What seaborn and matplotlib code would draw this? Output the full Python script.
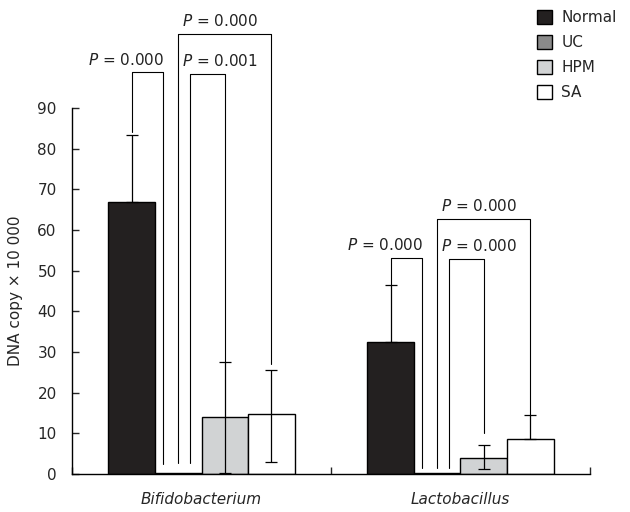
import numpy as np
import pandas as pd
import matplotlib
matplotlib.use('Agg')
import matplotlib.pyplot as plt
import seaborn as sns

# --- dados ---
generos = ['Bifidobacterium', 'Lactobacillus']
grupos = ['Normal', 'UC', 'HPM', 'SA']
cores = {'Normal': '#231f20', 'UC': '#8a8a8a', 'HPM': '#d1d3d4', 'SA': '#ffffff'}

valores = {
    'Normal': [66.8, 32.4],
    'UC': [0.3, 0.2],
    'HPM': [14.0, 4.0],
    'SA': [14.7, 8.7],
}
erro_inf = {'Normal': [0.0, 0.0], 'HPM': [13.7, 2.7], 'SA': [11.7, 0.0]}
erro_sup = {'Normal': [16.5, 14.1], 'HPM': [13.5, 3.1], 'SA': [10.9, 5.9]}

# colchetes de significância: (topo, base esquerda, base direita) por gênero
colchete_topo = {'Bifidobacterium': [98.7, 98.3, 108.2], 'Lactobacillus': [53.2, 52.9, 62.7]}
colchete_base_esq = {'Bifidobacterium': [84.0, 2.7, 2.7], 'Lactobacillus': [46.5, 1.5, 1.5]}
colchete_base_dir = {'Bifidobacterium': [2.5, 27.5, 27.0], 'Lactobacillus': [1.5, 10.1, 14.6]}
textos_p = {'Bifidobacterium': ['0.000', '0.001', '0.000'], 'Lactobacillus': ['0.000', '0.000', '0.000']}

linhas = []
for g in grupos:
    for i, gen in enumerate(generos):
        linhas.append({'genero': gen, 'grupo': g, 'valor': valores[g][i]})
df = pd.DataFrame(linhas)

sns.set_style('white')
plt.rcParams['font.family'] = ['DejaVu Sans']
plt.rcParams['font.size'] = 11
plt.rcParams['mathtext.fontset'] = 'dejavusans'

fig = plt.figure(figsize=(6.3, 5.12), dpi=100)
ax = fig.add_axes([72 / 630, 38 / 512, 518 / 630, 474 / 512])

sns.barplot(data=df, x='genero', y='valor', hue='grupo', hue_order=grupos,
            order=generos, palette=cores, edgecolor='black', linewidth=1.0,
            width=0.72, errorbar=None, ax=ax, zorder=2)

# centros das barras por grupo
centros = {}
for g, cont in zip(grupos, ax.containers):
    centros[g] = [b.get_x() + b.get_width() / 2 for b in cont]

for g in ['Normal', 'HPM', 'SA']:
    ax.errorbar(centros[g], valores[g], yerr=[erro_inf[g], erro_sup[g]], fmt='none',
                ecolor='black', elinewidth=0.9, capsize=4, capthick=0.9, zorder=3)

# colchetes
for i, gen in enumerate(generos):
    uc = centros['UC'][i]
    pares = [(centros['Normal'][i], uc - 0.06),
             (uc + 0.045, centros['HPM'][i]),
             (uc, centros['SA'][i])]
    for k, (xe, xd) in enumerate(pares):
        topo = colchete_topo[gen][k]
        ax.plot([xe, xe, xd, xd],
                [colchete_base_esq[gen][k], topo, topo, colchete_base_dir[gen][k]],
                color='black', lw=0.8, zorder=4, clip_on=False)
        txt = r'$P$ = ' + textos_p[gen][k]
        if k == 0:
            ax.annotate(txt, (xd + 0.005, topo), xytext=(0, 5.5), textcoords='offset points',
                        ha='right', va='baseline', fontsize=11, color='#222222')
        else:
            ax.annotate(txt, (uc + 0.015, topo), xytext=(0, 5.5), textcoords='offset points',
                        ha='left', va='baseline', fontsize=11, color='#222222')

ax.set_xlim(-0.5, 1.5)
ax.set_ylim(0, 116.5)
ax.set_yticks(np.arange(0, 91, 10))
ax.spines['left'].set_bounds(0, 90)
ax.spines['top'].set_visible(False)
ax.spines['right'].set_visible(False)
for s in ['left', 'bottom']:
    ax.spines[s].set_linewidth(1.0)
    ax.spines[s].set_color('black')

ax.set_xticks([-0.5, 0.5, 1.5], minor=True)
ax.tick_params(axis='x', which='major', length=0, pad=13)
ax.tick_params(axis='x', which='minor', direction='in', length=5, width=1.0, bottom=True)
ax.tick_params(axis='y', direction='in', length=5, width=1.0, pad=11, left=True)
for lbl in ax.get_xticklabels():
    lbl.set_fontstyle('italic')
ax.set_xlabel('')
ax.set_ylabel('DNA copy × 10 000', fontsize=11)
ax.yaxis.set_label_coords(-0.095, 45 / 116.5)

handles, labels = ax.get_legend_handles_labels()
ax.legend(handles, labels, loc='upper left', bbox_to_anchor=(537 / 630, 1 - 10 / 512),
          bbox_transform=fig.transFigure, frameon=False, borderpad=0, borderaxespad=0,
          handlelength=1.0, handleheight=1.0, handletextpad=0.6, labelspacing=0.65,
          fontsize=11)

fig.savefig('out.png', dpi=100)
